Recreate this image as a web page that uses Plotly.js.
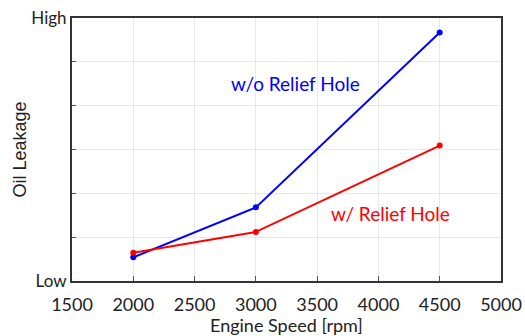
<!DOCTYPE html>
<html>
<head>
<meta charset="utf-8">
<script src="https://cdn.plot.ly/plotly-3.0.1.min.js"></script>
<style>html,body{margin:0;padding:0;background:#fff;}#chart{width:525px;height:336px;}</style>
</head>
<body>
<div id="chart"></div>
<script>
const engineSpeed = [2000, 3000, 4500];
const withoutRelief = [0.54, 1.68, 5.67];
const withRelief = [0.645, 1.12, 3.09];
const xTickVals = [1500, 2000, 2500, 3000, 3500, 4000, 4500, 5000];
const yTickVals = [0, 6];
const yTickText = ['Low', 'High'];
const labelWithout = 'w/o Relief Hole';
const labelWith = 'w/ Relief Hole';
const xTitle = 'Engine Speed [rpm]';
const yTitle = 'Oil Leakage';

const font = 'Lato, "Open Sans", sans-serif';
const traces = [
  {x: engineSpeed, y: withoutRelief, mode: 'lines+markers', line: {color: '#0000ff', width: 2}, marker: {color: '#0000ff', size: 6}, name: labelWithout, cliponaxis: false},
  {x: engineSpeed, y: withRelief, mode: 'lines+markers', line: {color: '#ff0000', width: 2}, marker: {color: '#ff0000', size: 6}, name: labelWith, cliponaxis: false}
];
const layout = {
  width: 525, height: 336,
  margin: {l: 72, r: 24, t: 18, b: 55},
  showlegend: false,
  paper_bgcolor: '#fff', plot_bgcolor: '#fff',
  font: {family: font, size: 16, color: '#222'},
  xaxis: {
    range: [1500, 5000], tickvals: xTickVals, ticks: 'inside', ticklen: 5, tickcolor: '#555',
    showgrid: true, gridcolor: '#e8e8e8', gridwidth: 1,
    showline: true, linecolor: '#333', linewidth: 2, mirror: true, zeroline: false,
    tickfont: {family: font, size: 18, color: '#222'}, ticklabelstandoff: 6
  },
  yaxis: {
    range: [0, 6], tickvals: yTickVals, ticktext: yTickText, ticks: '',
    showgrid: false, showline: true, linecolor: '#333', linewidth: 2, mirror: true, zeroline: false,
    tickfont: {family: font, size: 17, color: '#222'}, ticklabelstandoff: 0,
    title: {text: yTitle, font: {family: '"Liberation Sans", Arial, sans-serif', size: 18, color: '#222'}, standoff: 0}
  },
  yaxis2: {
    range: [0, 6], overlaying: 'y', dtick: 1, tick0: 0, ticks: 'inside', ticklen: 4, tickcolor: '#555',
    showticklabels: false, showgrid: true, gridcolor: '#e8e8e8', zeroline: false, showline: false
  },
  annotations: [
    {x: 3325, y: 4.5, xref: 'x', yref: 'y', text: labelWithout, showarrow: false, font: {family: font, size: 19, color: '#0000ff'}},
    {x: 4100, y: 1.53, xref: 'x', yref: 'y', text: labelWith, showarrow: false, font: {family: font, size: 19, color: '#ff0000'}},
    {x: 0.5, y: 0, xref: 'paper', yref: 'paper', yanchor: 'middle', yshift: -44, text: xTitle, showarrow: false, font: {family: font, size: 18, color: '#222'}}
  ]
};
traces.push({x: [1500], y: [0], yaxis: 'y2', mode: 'markers', marker: {opacity: 0}, hoverinfo: 'skip'});
Plotly.newPlot('chart', traces, layout, {displayModeBar: false, staticPlot: true});
</script>
</body>
</html>
